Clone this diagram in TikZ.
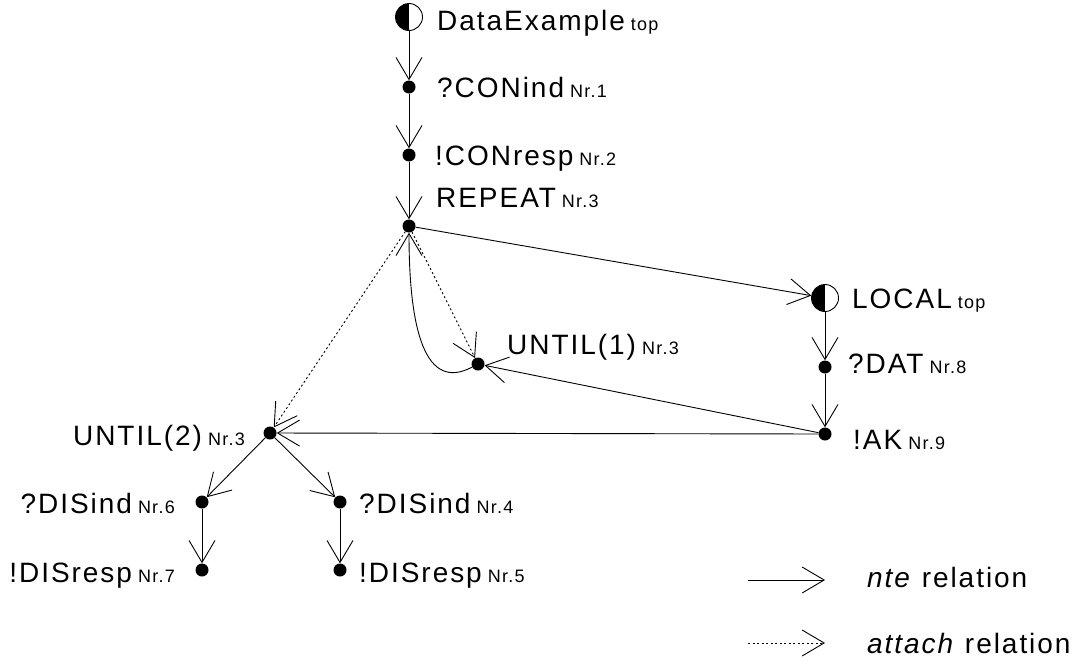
\documentclass[tikz,border=0pt]{standalone}
\usepackage{fontspec}
\usetikzlibrary{arrows.meta}
\newfontfamily\labfont[LetterSpace=7]{Liberation Sans}
\newcommand\nrsmall[1]{\hspace{6pt}{\fontsize{18}{20}\selectfont #1}}
\tikzset{
  dotnode/.style={circle,fill=black,inner sep=0pt,minimum size=13pt},
  halfnode/.style={circle,draw=black,line width=0.9pt,inner sep=0pt,minimum size=27pt,
    path picture={\fill[black] (path picture bounding box.south west) rectangle (path picture bounding box.north);}},
  lbl/.style={font=\labfont\fontsize{28}{30}\selectfont,inner sep=0pt,anchor=base west},
  lblr/.style={lbl,anchor=base east},
  nte/.style={line width=0.9pt,-{Straight Barb[length=22pt,width=26pt,line width=0.9pt]}},
  att/.style={nte,dash pattern=on 2pt off 2.5pt}
}
\begin{document}
\begin{tikzpicture}[x=1pt,y=-1pt]
\useasboundingbox (0,0) rectangle (1073,664);
% nodes
\node[halfnode] (de) at (409,17) {};
\node[dotnode] (c1) at (409,87) {};
\node[dotnode] (c2) at (409,155) {};
\node[dotnode] (rep) at (409,226) {};
\node[halfnode] (loc) at (825,298) {};
\node[dotnode] (dat) at (825,367) {};
\node[dotnode] (ak) at (825,434) {};
\node[dotnode] (u1) at (478,364) {};
\node[dotnode] (u2) at (270,433) {};
\node[dotnode] (d6) at (202,502) {};
\node[dotnode] (r7) at (202,570) {};
\node[dotnode] (d4) at (340,502) {};
\node[dotnode] (r5) at (340,570) {};
% labels
\node[lbl] (tde) at (437,30) {DataExample\nrsmall{top}};
\node[lbl] (tc1) at (437,97) {?CONind\nrsmall{Nr.1}};
\node[lbl] (tc2) at (435,165) {!CONresp\nrsmall{Nr.2}};
\node[lbl] (trep) at (436,207) {REPEAT\nrsmall{Nr.3}};
\node[lbl] (tloc) at (852,308) {LOCAL\nrsmall{top}};
\node[lbl] (tdat) at (848,373) {?DAT\nrsmall{Nr.8}};
\node[lbl] (tak) at (853,449) {!AK\nrsmall{Nr.9}};
\node[lbl] (tu1) at (507,354) {UNTIL(1)\nrsmall{Nr.3}};
\node[lblr] (tu2) at (245,445) {UNTIL(2)\nrsmall{Nr.3}};
\node[lblr] (td6) at (175,513) {?DISind\nrsmall{Nr.6}};
\node[lblr] (tr7) at (175,582) {!DISresp\nrsmall{Nr.7}};
\node[lbl] (td4) at (359,513) {?DISind\nrsmall{Nr.4}};
\node[lbl] (tr5) at (359,582) {!DISresp\nrsmall{Nr.5}};
% connectors
\draw[nte] (de) -- (c1);
\draw[nte] (c1) -- (c2);
\draw[nte] (c2) -- (rep);
\draw[nte] (rep) -- (loc);
\draw[nte] (loc) -- (dat);
\draw[nte] (dat) -- (ak);
\draw[nte] (ak) -- (u1);
\draw[nte] (ak) -- (u2);
\draw[nte] (u1) .. controls (425,392) and (409,330) .. (rep);
\draw[att] (rep) -- (u1);
\draw[att] (rep) -- (u2);
\draw[nte] (u2) -- (d6);
\draw[nte] (u2) -- (d4);
\draw[nte] (d6) -- (r7);
\draw[nte] (d4) -- (r5);
% legend
\coordinate (la1) at (748,580);
\coordinate (la2) at (825,580);
\coordinate (lb1) at (748,643);
\coordinate (lb2) at (825,643);
\draw[nte] (la1) -- (la2);
\draw[att] (lb1) -- (lb2);
\node[lbl] (tla) at (867,587) {\textit{nte} relation};
\node[lbl] (tlb) at (867,653) {\textit{attach} relation};
\end{tikzpicture}
\end{document}
